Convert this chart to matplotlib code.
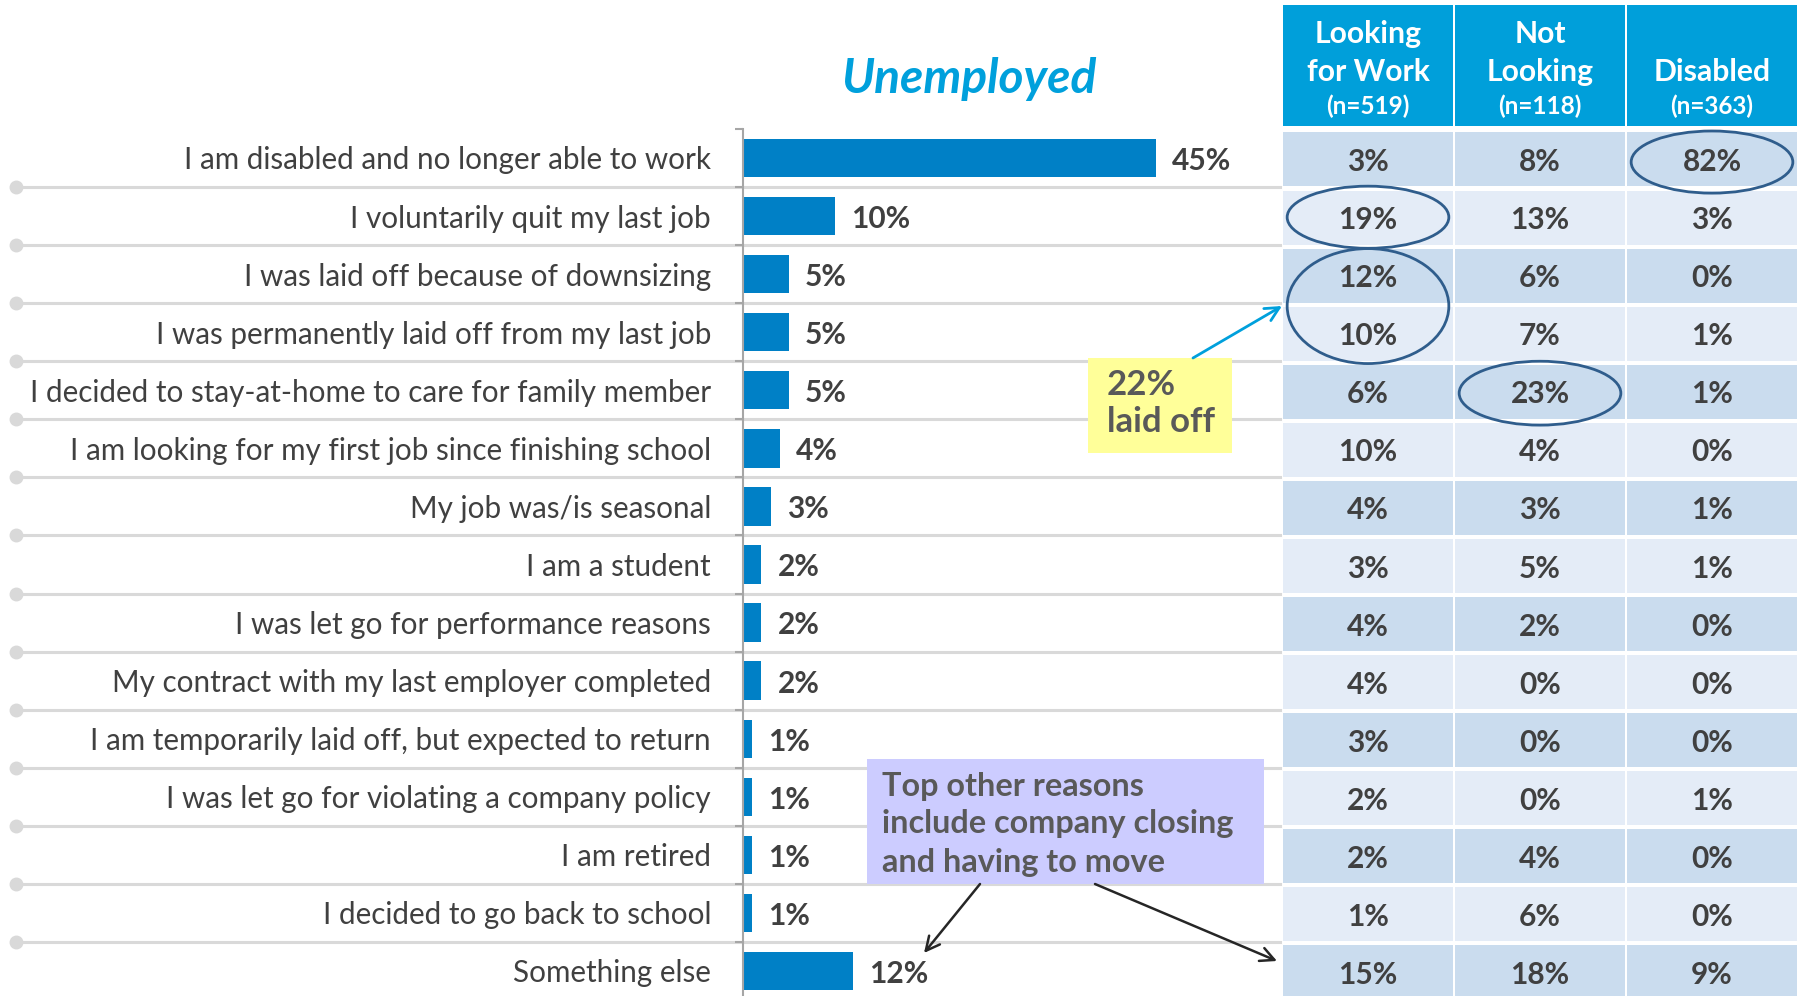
import matplotlib
matplotlib.use("Agg")
import matplotlib.pyplot as plt
from matplotlib.patches import Rectangle, Ellipse
from matplotlib import transforms

plt.rcParams["font.family"] = ["Lato", "DejaVu Sans"]

categories = [
    "I am disabled and no longer able to work",
    "I voluntarily quit my last job",
    "I was laid off because of downsizing",
    "I was permanently laid off from my last job",
    "I decided to stay-at-home to care for family member",
    "I am looking for my first job since finishing school",
    "My job was/is seasonal",
    "I am a student",
    "I was let go for performance reasons",
    "My contract with my last employer completed",
    "I am temporarily laid off, but expected to return",
    "I was let go for violating a company policy",
    "I am retired",
    "I decided to go back to school",
    "Something else",
]
unemployed = [45, 10, 5, 5, 5, 4, 3, 2, 2, 2, 1, 1, 1, 1, 12]
looking = [3, 19, 12, 10, 6, 10, 4, 3, 4, 4, 3, 2, 2, 1, 15]
not_looking = [8, 13, 6, 7, 23, 4, 3, 5, 2, 0, 0, 0, 4, 6, 18]
disabled = [82, 3, 0, 1, 1, 0, 1, 1, 0, 0, 0, 1, 0, 0, 9]
col_titles = [["Looking", "for Work"], ["Not", "Looking"], ["", "Disabled"]]
col_n = ["(n=519)", "(n=118)", "(n=363)"]

W, H = 1798, 996
ROW0, STEP = 158, 58.07
ytop, ybot = (0 - ROW0) / STEP, (H - ROW0) / STEP

def fy(p):
    return 1 - p / H

def ry(p):
    return (p - ROW0) / STEP

dark = "#404040"
fig = plt.figure(figsize=(W / 100, H / 100), dpi=100)

# bar panel
ax = fig.add_axes([743 / W, 0, (1280 - 743) / W, 1])
ax.set_ylim(ybot, ytop)
ax.set_xlim(0, (1280 - 743) / 9.18)
y = list(range(len(categories)))
ax.barh(y, unemployed, height=0.66, color="#0080C6")
for i, v in enumerate(unemployed):
    ax.text(v + 1.75, i + 0.05, f"{v}%", va="center", ha="left", fontsize=21.5,
            fontweight="bold", color=dark)
for s in ["top", "right", "bottom"]:
    ax.spines[s].set_visible(False)
ax.spines["left"].set_bounds(-0.5, ybot)
ax.spines["left"].set_color("#A6A6A6")
ax.spines["left"].set_linewidth(1.5)
ax.set_xticks([])
ax.set_yticks(y)
ax.set_yticklabels(categories, fontsize=21.3, color=dark)
ax.tick_params(axis="y", which="major", length=0, pad=23)
ax.set_yticks([i - 0.5 for i in range(len(categories))], minor=True)
ax.tick_params(axis="y", which="minor", length=6, width=1.5, color="#A6A6A6")

# grid lines running across with dot on the left
blend = transforms.blended_transform_factory(fig.transFigure, ax.transData)
for i in range(len(categories) - 1):
    ax.plot([16 / W, 1280 / W], [i + 0.5, i + 0.5], transform=blend,
            color="#D9D9D9", lw=2.2, clip_on=False, zorder=0)
    ax.plot([16 / W], [i + 0.5], transform=blend, marker="o", ms=9,
            color="#D9D9D9", clip_on=False, zorder=0)

fig.text(969 / W, fy(79), "Unemployed", ha="center", va="center", fontsize=34.5,
         fontweight="bold", fontstyle="italic", color="#00A0DC")

# table panel
tax = fig.add_axes([1282 / W, 0, (W - 1282) / W, 1])
tax.set_xlim(0, 3)
tax.set_ylim(ybot, ytop)
tax.axis("off")
cols = [looking, not_looking, disabled]
for j, vals in enumerate(cols):
    hy0, hy1 = ry(5), ry(126)
    tax.add_patch(Rectangle((j + 0.006, hy0), 0.988, hy1 - hy0, color="#009FDA", lw=0))
    for k, line in enumerate(col_titles[j]):
        tax.text(j + 0.5, ry(34 + 38 * k), line, ha="center", va="center",
                 fontsize=21.7, fontweight="bold", color="white")
    tax.text(j + 0.5, ry(106), col_n[j], ha="center", va="center",
             fontsize=17.5, fontweight="bold", color="white")
    for i, v in enumerate(vals):
        c = "#CADCEE" if i % 2 == 0 else "#E4ECF7"
        h = 0.93 if i < len(vals) - 1 else 2
        tax.add_patch(Rectangle((j + 0.006, i - 0.44), 0.988, h, color=c, lw=0))
        tax.text(j + 0.5, i + 0.07, f"{v}%", ha="center", va="center", fontsize=21.5,
                 fontweight="bold", color=dark)

ring = "#2F5D8C"
for (cx, cy, ew, eh) in [(2.5, 0.07, 0.94, 1.07), (0.5, 1.02, 0.94, 1.07),
                         (0.5, 2.55, 0.94, 1.98), (1.5, 4.05, 0.94, 1.1)]:
    tax.add_patch(Ellipse((cx, cy), ew, eh, fill=False, ec=ring, lw=2, zorder=5))

# yellow callout
fig.add_artist(Rectangle((1088 / W, fy(453)), 144 / W, 95 / H,
                         transform=fig.transFigure, color="#FFFF99", lw=0))
for k, line in enumerate(["22%", "laid off"]):
    fig.text(1107 / W, fy(385 + 37 * k), line, ha="left", va="center", fontsize=25,
             fontweight="bold", color="#595959")
fig.add_artist(plt.Annotation("", xy=(1282 / W, fy(306)), xytext=(1193 / W, fy(358)),
                              xycoords="figure fraction",
                              arrowprops=dict(arrowstyle="->", color="#00A0DC", lw=2,
                                              mutation_scale=25, shrinkA=0, shrinkB=0)))

# purple callout
fig.add_artist(Rectangle((867 / W, fy(884)), 397 / W, 125 / H,
                         transform=fig.transFigure, color="#CCCCFF", lw=0))
for k, line in enumerate(["Top other reasons", "include company closing", "and having to move"]):
    fig.text(882 / W, fy(786 + 38 * k), line, ha="left", va="center", fontsize=23.3,
             fontweight="bold", color="#595959")
for start, end in [((980, 884), (924, 953)), ((1095, 884), (1277, 961))]:
    fig.add_artist(plt.Annotation("", xy=(end[0] / W, fy(end[1])),
                                  xytext=(start[0] / W, fy(start[1])),
                                  xycoords="figure fraction",
                                  arrowprops=dict(arrowstyle="->", color="#262626", lw=1.8,
                                                  mutation_scale=25, shrinkA=0, shrinkB=0)))

fig.savefig("out.png", dpi=100)
